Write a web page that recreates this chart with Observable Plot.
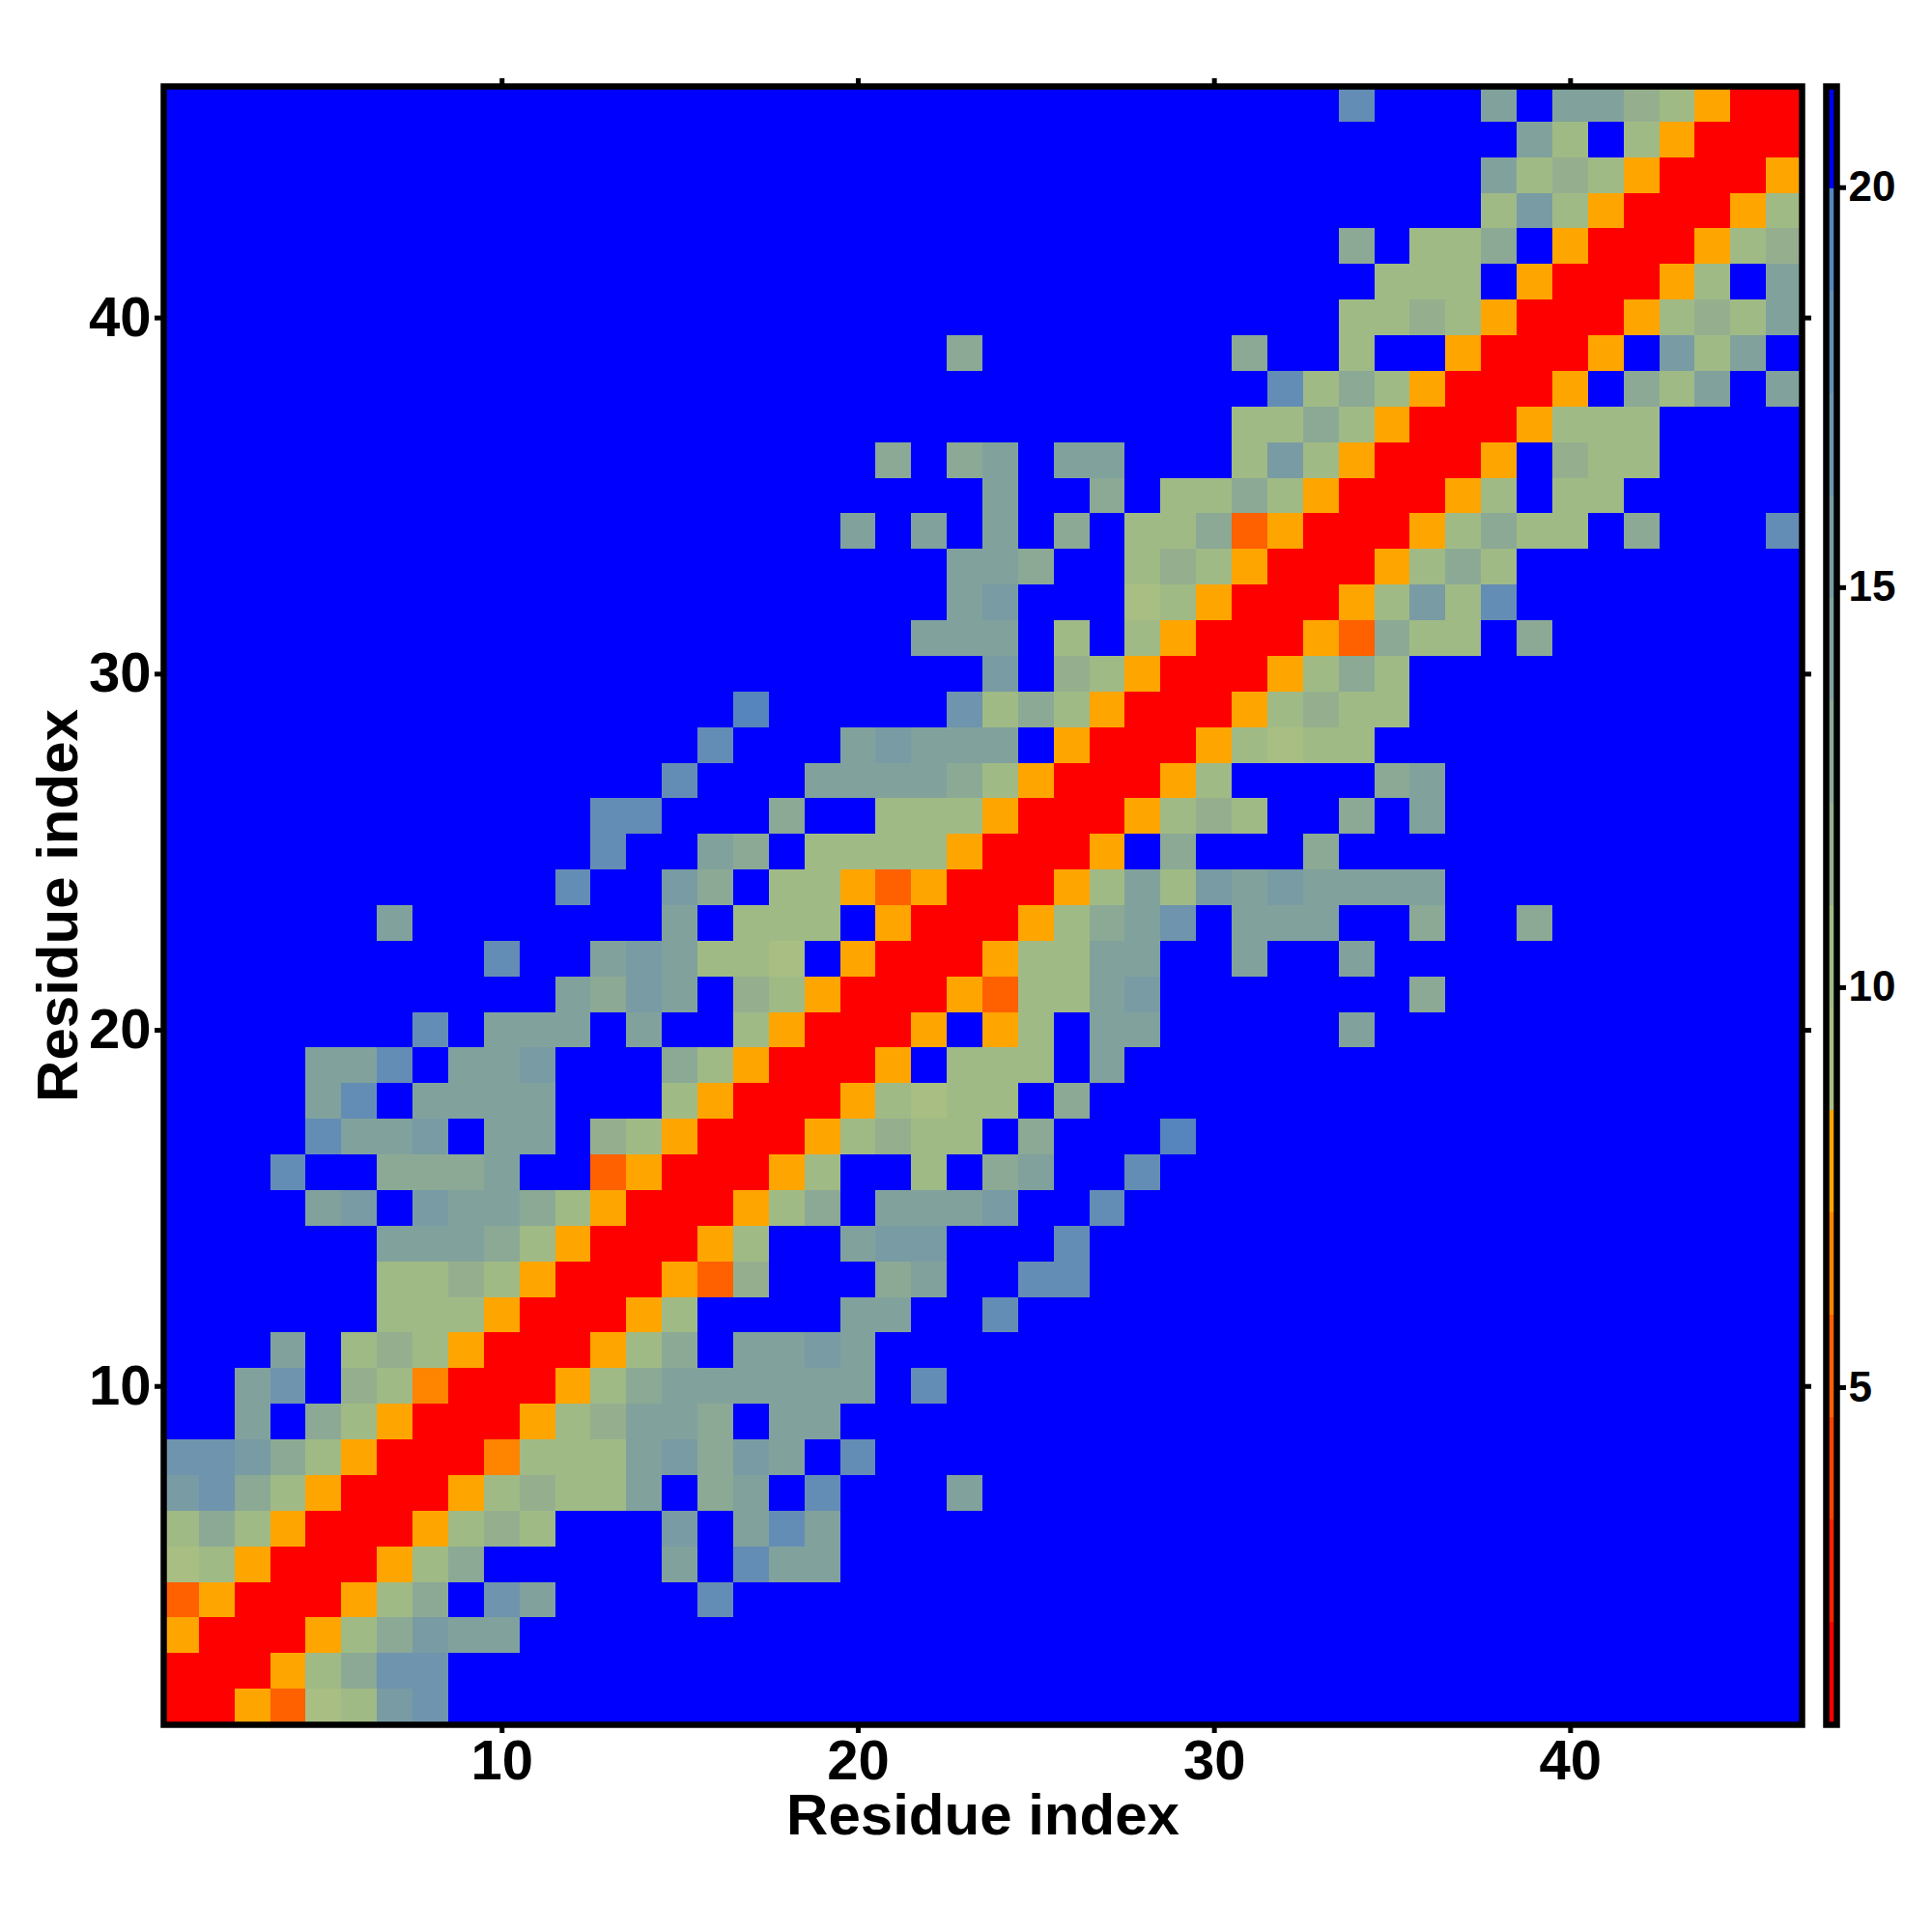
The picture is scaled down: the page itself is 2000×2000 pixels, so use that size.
<!DOCTYPE html>
<html>
<head>
<meta charset="utf-8">
<script src="https://cdn.jsdelivr.net/npm/d3@7"></script>
<script src="https://cdn.jsdelivr.net/npm/@observablehq/plot@0.6"></script>
<style>
  html, body { margin: 0; padding: 0; background: #fff; }
  #chart { display: flex; width: 2000px; height: 2000px; }
  #chart svg { display: block; flex: none; }
</style>
</head>
<body>
<div id="chart"></div>
<script>
// Class edges of the colour key (residue-residue distance)
const breaks = [0.785, 2.065, 3.345, 4.625, 5.905, 7.185, 8.465, 9.745, 11.025, 12.305, 13.585, 14.865, 16.145, 17.425, 18.705, 19.985, 21.265];
const levelColors = ["#FF0000", "#FF2100", "#FF4200", "#FF6000", "#FF8400", "#FFA500",
  "#A8BE82", "#A0BA86", "#95AF8E", "#8BA995", "#81A29C", "#799BA4", "#6F94AD", "#648DB5", "#5585BC", "#0000FF"];
// Letter for each class
const levelCodes = "r..RPOabcdefghiB";
// Lower triangle, one entry per y = 1..46; each entry ends on the diagonal.
// Cells further left than the entry reaches are class B.
const rows = [
  "r", "rr", "Orr", "ROrr", "abOrr", "bdbOrr", "fgdbOrr", "ggfdbOrr", "eBdbOrr", "egBcbPrr",
  "eBbcbOrr", "bbbOrr", "bbcbOrr", "eeedbOrr", "efBfeedbOrr", "hBBdddeBBROrr", "heefBeeBcbOrr", "ehBeeeeBBBbOrr", "eehBeefBBBdbOrr", "hBeeeBeBBbOrr",
  "edfeBcbOrr", "hBBefebbaBOrr", "eBBBBBBBeBbbbBOrr", "hBBfdBbbOROrr", "hBBedBbbbbOrr", "hhBBBdBBbbbOrr", "hBBBeeeedbOrr", "hBBBefeeeBOrr", "iBBBBBgbdbOrr", "fBcbOrr",
  "eeeBbBbOrr", "efBBBabOrr", "eedBBbcbOrr", "eBeBeBdBbbdROrr", "eBBdBbbdbOrr", "dBdeBeeBBBbfbOrr", "bbdbOrr", "hbdbOrr", "dBBBBBBBdBBbBBOrr", "bbcbOrr",
  "bbbBOrr", "dBbbdBOrr", "bfbOrr", "ebcbOrr", "ebBbOrr", "hBBBeBeecbOrr"
];
const residueTicks = [10, 20, 30, 40];
const keyTicks = [5, 10, 15, 20];
const axisTitle = "Residue index";

const n = rows.length;
const mids = d3.pairs(breaks, (a, b) => (a + b) / 2);
const cells = [];
rows.forEach((tail, i) => {
  const y = i + 1;
  const full = tail.padStart(y, "B");
  for (let j = 0; j < y; j++) {
    const x = j + 1;
    const value = mids[levelCodes.indexOf(full[j])];
    cells.push({x, y, value});
    if (x !== y) cells.push({x: y, y: x, value});
  }
});
const keyBands = d3.pairs(breaks, (lo, hi) => ({lo, hi, value: (lo + hi) / 2}));

const colorOpts = {type: "threshold", domain: breaks.slice(1, -1), range: levelColors};
const font = "'Liberation Sans', Arial, sans-serif";
const tickStyle = {tickSize: 9, strokeWidth: 5};

const main = Plot.plot({
  width: 1875, height: 2000,
  marginLeft: 169, marginRight: 10, marginTop: 89, marginBottom: 215,
  style: {fontFamily: font, background: "#fff", color: "#000"},
  x: {domain: [0.5, n + 0.5]},
  y: {domain: [0.5, n + 0.5]},
  color: colorOpts,
  marks: [
    Plot.rect(cells, {
      x1: d => d.x - 0.5, x2: d => d.x + 0.5,
      y1: d => d.y - 0.5, y2: d => d.y + 0.5,
      fill: "value", shapeRendering: "crispEdges"
    }),
    Plot.frame({stroke: "#000", strokeWidth: 6.5}),
    Plot.axisX({anchor: "bottom", ticks: residueTicks, ...tickStyle, tickPadding: 6, fontSize: 58, fontWeight: "bold", label: null}),
    Plot.axisX({anchor: "top", ticks: residueTicks, ...tickStyle, tickFormat: () => "", label: null}),
    Plot.axisY({anchor: "left", ticks: residueTicks, ...tickStyle, tickPadding: 4, fontSize: 58, fontWeight: "bold", label: null}),
    Plot.axisY({anchor: "right", ticks: residueTicks, ...tickStyle, tickFormat: () => "", label: null}),
    Plot.text([axisTitle], {frameAnchor: "bottom", dy: 94, lineAnchor: "middle", fontSize: 60, fontWeight: "bold", fill: "#000"}),
    Plot.text([axisTitle], {frameAnchor: "left", dx: -109, rotate: -90, textAnchor: "middle", lineAnchor: "middle", fontSize: 60, fontWeight: "bold", fill: "#000"})
  ]
});

const key = Plot.plot({
  width: 125, height: 2000,
  marginLeft: 15, marginRight: 99, marginTop: 89, marginBottom: 215,
  style: {fontFamily: font, background: "#fff", color: "#000"},
  x: {domain: [0, 1], axis: null},
  y: {domain: [breaks[0], breaks[breaks.length - 1]], axis: null},
  color: colorOpts,
  marks: [
    Plot.rect(keyBands, {x1: 0, x2: 1, y1: "lo", y2: "hi", fill: "value", shapeRendering: "crispEdges"}),
    Plot.frame({stroke: "#000", strokeWidth: 6.5}),
    Plot.axisY({anchor: "right", ticks: keyTicks, ...tickStyle, tickPadding: 3, fontSize: 44, fontWeight: "bold", label: null})
  ]
});

document.getElementById("chart").append(main, key);
</script>
</body>
</html>
